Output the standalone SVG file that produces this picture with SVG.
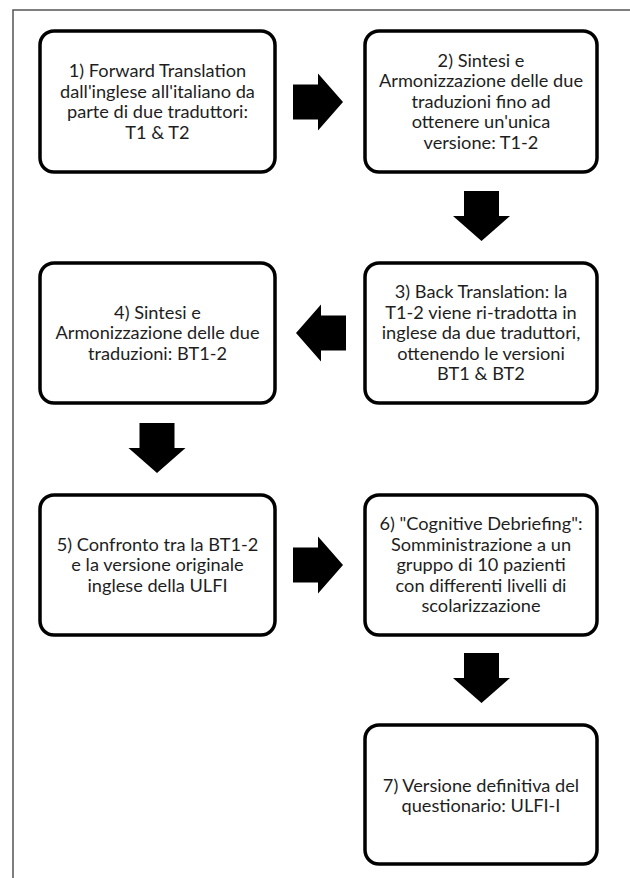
<svg xmlns="http://www.w3.org/2000/svg" width="630" height="878" viewBox="0 0 630 878">
<style>
.box{fill:#fff;stroke:#000;stroke-width:3.5}
.t{font-family:Lato,"Open Sans",sans-serif;font-size:18.2px;fill:#1e1e1e;text-anchor:middle}
.arr{fill:#000}
</style>
<rect width="630" height="878" fill="#fff"/>
<path d="M13,878 V10 H630" fill="none" stroke="#555" stroke-width="1.5"/>
<defs>
<path id="ar" d="M0,-17.5 H25 V-28.5 L50,0 L25,28.5 V17.5 H0 Z"/>
</defs>
<g id="connectors">
<use href="#ar" class="arr" transform="translate(293,102)"/>
<use href="#ar" class="arr" transform="translate(481.5,191) rotate(90)"/>
<use href="#ar" class="arr" transform="translate(346,333) rotate(180)"/>
<use href="#ar" class="arr" transform="translate(157,423) rotate(90)"/>
<use href="#ar" class="arr" transform="translate(293,565)"/>
<use href="#ar" class="arr" transform="translate(481.5,653) rotate(90)"/>
</g>
<g id="n1">
<rect class="box" x="40" y="31" width="235" height="141" rx="14"/>
<text class="t" x="157.5"><tspan x="157.5" y="77">1) Forward Translation</tspan><tspan x="157.5" y="97.5">dall'inglese all'italiano da</tspan><tspan x="157.5" y="118">parte di due traduttori:</tspan><tspan x="157.5" y="138.5">T1 &amp; T2</tspan></text>
</g>
<g id="n2">
<rect class="box" x="365" y="31" width="232" height="141" rx="14"/>
<text class="t"><tspan x="481" y="66.5">2) Sintesi e</tspan><tspan x="481" y="87">Armonizzazione delle due</tspan><tspan x="481" y="107.5">traduzioni fino ad</tspan><tspan x="481" y="128">ottenere un'unica</tspan><tspan x="481" y="148.5">versione: T1-2</tspan></text>
</g>
<g id="n3">
<rect class="box" x="365" y="263" width="232" height="140" rx="14"/>
<text class="t"><tspan x="481" y="298">3) Back Translation: la</tspan><tspan x="481" y="318.5">T1-2 viene ri-tradotta in</tspan><tspan x="481" y="339">inglese da due traduttori,</tspan><tspan x="481" y="359.5">ottenendo le versioni</tspan><tspan x="481" y="380">BT1 &amp; BT2</tspan></text>
</g>
<g id="n4">
<rect class="box" x="40" y="263" width="235" height="140" rx="14"/>
<text class="t"><tspan x="157.5" y="318.5">4) Sintesi e</tspan><tspan x="157.5" y="339">Armonizzazione delle due</tspan><tspan x="157.5" y="359.5">traduzioni: BT1-2</tspan></text>
</g>
<g id="n5">
<rect class="box" x="40" y="495" width="235" height="140" rx="14"/>
<text class="t"><tspan x="157.5" y="550.5">5) Confronto tra la BT1-2</tspan><tspan x="157.5" y="571">e la versione originale</tspan><tspan x="157.5" y="591.5">inglese della ULFI</tspan></text>
</g>
<g id="n6">
<rect class="box" x="365" y="495" width="232" height="140" rx="14"/>
<text class="t"><tspan x="481" y="530">6) "Cognitive Debriefing":</tspan><tspan x="481" y="550.5">Somministrazione a un</tspan><tspan x="481" y="571">gruppo di 10 pazienti</tspan><tspan x="481" y="591.5">con differenti livelli di</tspan><tspan x="481" y="612">scolarizzazione</tspan></text>
</g>
<g id="n7">
<rect class="box" x="365" y="725" width="232" height="139" rx="14"/>
<text class="t"><tspan x="481" y="791.5">7) Versione definitiva del</tspan><tspan x="481" y="812">questionario: ULFI-I</tspan></text>
</g>
</svg>
